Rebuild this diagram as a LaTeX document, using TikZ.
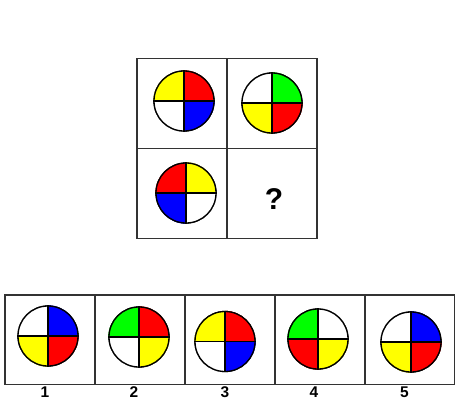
\documentclass[tikz,border=0pt]{standalone}
\usepackage{fontspec}
\setmainfont{Liberation Sans}
\begin{document}
\begin{tikzpicture}[x=1pt,y=-1pt,
  frame/.style={draw=black!80,line width=1.8pt,minimum width=90pt,minimum height=90pt,inner sep=0pt,anchor=north west},
  bframe/.style={draw=black!80,line width=1.8pt,minimum width=90pt,minimum height=89.5pt,inner sep=0pt,anchor=north west},
  disk/.style={circle,draw=black,line width=1.3pt,minimum size=60pt,inner sep=0pt},
  lbl/.style={font=\bfseries\fontsize{15.5}{15.5}\selectfont,inner sep=0pt},
  qmark/.style={font=\bfseries\fontsize{30}{30}\selectfont,inner sep=0pt}]
\definecolor{qy}{RGB}{255,255,0}
\definecolor{qr}{RGB}{255,0,0}
\definecolor{qb}{RGB}{0,0,255}
\definecolor{qg}{RGB}{0,255,0}
\definecolor{qw}{RGB}{255,255,255}
\useasboundingbox[fill=white] (0,0) rectangle (458,416);
% quadrant macro: name, center, TL, TR, BL, BR
\newcommand{\diskq}[6]{%
  \node[disk] (#1) at #2 {};
  \fill[#3] (#1.center) -- (#1.west) arc[start angle=180,end angle=90,radius=30pt] -- cycle;
  \fill[#4] (#1.center) -- (#1.north) arc[start angle=90,end angle=0,radius=30pt] -- cycle;
  \fill[#5] (#1.center) -- (#1.south) arc[start angle=270,end angle=180,radius=30pt] -- cycle;
  \fill[#6] (#1.center) -- (#1.east) arc[start angle=0,end angle=-90,radius=30pt] -- cycle;
  \draw[line width=1.3pt] (#1.north) -- (#1.south) (#1.west) -- (#1.east);
  \node[disk] at (#1.center) {};
}
% top grid
\node[frame] (g11) at (136,57.5) {};
\node[frame] (g12) at (226,57.5) {};
\node[frame] (g21) at (136,147.5) {};
\node[frame] (g22) at (226,147.5) {};
\diskq{t1}{(184,101)}{qy}{qr}{qw}{qb}
\diskq{t2}{(272,103)}{qw}{qg}{qy}{qr}
\diskq{t3}{(186,193)}{qr}{qy}{qb}{qw}
\node[qmark] (q) at (274,199) {?};
% options
\node[bframe] (o1) at (4,294) {};
\node[bframe] (o2) at (94,294) {};
\node[bframe] (o3) at (184,294) {};
\node[bframe] (o4) at (274,294) {};
\node[bframe,minimum width=89.5pt] (o5) at (364,294) {};
\diskq{a1}{(48,336)}{qw}{qb}{qy}{qr}
\diskq{a2}{(139,337)}{qg}{qr}{qw}{qy}
\diskq{a3}{(225,341.5)}{qy}{qr}{qw}{qb}
\diskq{a4}{(318,339)}{qg}{qw}{qr}{qy}
\diskq{a5}{(411,342)}{qw}{qb}{qy}{qr}
\node[lbl] (l1) at (45,392) {1};
\node[lbl] (l2) at (134,392) {2};
\node[lbl] (l3) at (225,392) {3};
\node[lbl] (l4) at (314,392) {4};
\node[lbl] (l5) at (404.5,392) {5};
\end{tikzpicture}
\end{document}
